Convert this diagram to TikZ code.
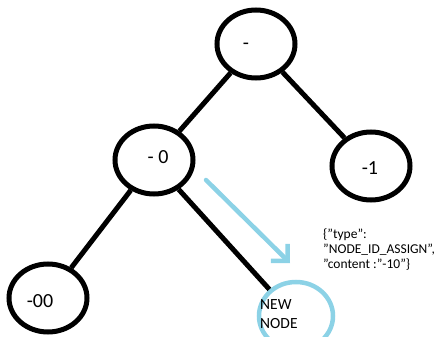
\documentclass[tikz,border=0pt]{standalone}
\usepackage{fontspec}
\setmainfont{Carlito}
\usetikzlibrary{arrows.meta,shapes.geometric}
\definecolor{skyline}{RGB}{140,210,230}
\tikzset{
  treenode/.style={draw=black, line width=5pt, ellipse, minimum width=78pt, minimum height=68pt, inner sep=0pt},
  newnode/.style={draw=skyline, line width=4.5pt, ellipse, minimum width=74pt, minimum height=68pt, inner sep=0pt},
  branch/.style={line width=5pt, black},
  hint/.style={line width=4.5pt, skyline, line cap=round, -{Straight Barb[length=12pt, width=24pt, line width=4.5pt]}},
  lbl/.style={font=\fontsize{20}{22}\selectfont, inner sep=0pt},
}
\begin{document}
\begin{tikzpicture}[x=1pt, y=-1pt]
\useasboundingbox (0,0) rectangle (448,337);
\node[treenode] (root) at (256,44) {};
\node[treenode] (left) at (154,160) {};
\node[treenode] (right) at (371,166) {};
\node[treenode] (ll) at (48,298) {};
\node[newnode] (new) at (296,316) {};

\node[lbl] (troot) at (246,46) {-};
\node[lbl] (tleft) at (158,157) {-\ 0};
\node[lbl] (tright) at (370,168) {-1};
\node[lbl] (tll) at (40,301) {-00};
\node[font=\fontsize{15.5}{19}\selectfont, align=left, inner sep=0pt, anchor=north west] (tnew) at (260,299) {NEW\\NODE};

\draw[branch] (root) -- (left);
\draw[branch] (root) -- (right);
\draw[branch] (left) -- (ll);
\draw[branch] (left.-50) -- (new.135);

\coordinate (hs) at (206,180);
\coordinate (he) at (290,263);
\draw[hint] (hs) -- (he);

\node[font=\fontsize{13.5}{15}\selectfont, align=left, inner sep=0pt, anchor=north west] (msg) at (323,229) {\{"type":\\"NODE\_ID\_ASSIGN",\\"content :"-10"\}};
\end{tikzpicture}
\end{document}
